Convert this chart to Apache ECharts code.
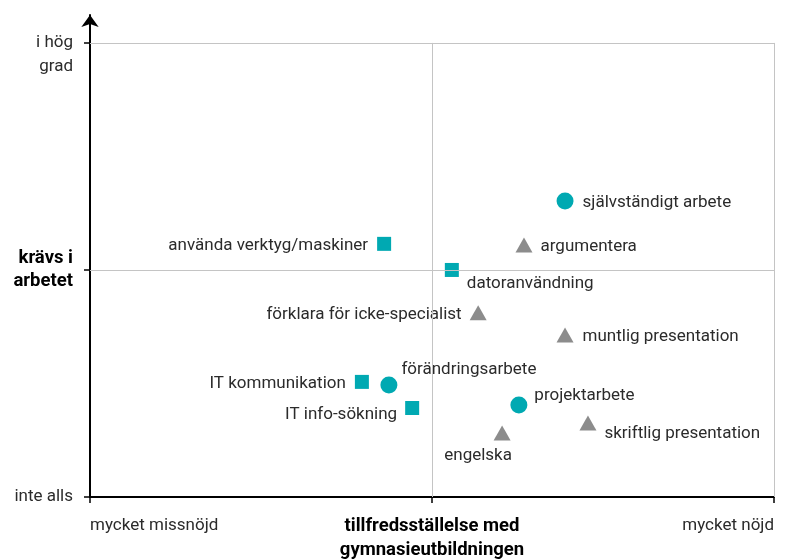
<!DOCTYPE html>
<html>
<head>
<meta charset="utf-8">
<script src="https://cdn.jsdelivr.net/npm/echarts@6/dist/echarts.min.js"></script>
<style>html,body{margin:0;padding:0;background:#fff}#c{width:791px;height:560px}</style>
</head>
<body>
<div id="c"></div>
<script>
// ---- data (x: satisfaction -1..1, y: required at work -1..1) ----
var circleNames = ['självständigt arbete', 'förändringsarbete', 'projektarbete'];
var circleX = [0.389, -0.126, 0.254];
var circleY = [0.304, -0.507, -0.595];

var squareNames = ['använda verktyg/maskiner', 'datoranvändning', 'IT kommunikation', 'IT info-sökning'];
var squareX = [-0.140, 0.058, -0.205, -0.058];
var squareY = [0.115, 0.000, -0.493, -0.608];

var triangleNames = ['argumentera', 'förklara för icke-specialist', 'muntlig presentation', 'skriftlig presentation', 'engelska'];
var triangleX = [0.269, 0.135, 0.389, 0.456, 0.205];
var triangleY = [0.110, -0.189, -0.286, -0.674, -0.718];

var xTickValues = [-1, 0, 1];
var xTickLabels = ['mycket missnöjd', 'tillfredsställelse med\ngymnasieutbildningen', 'mycket nöjd'];
var yTickValues = [-1, 0, 1];
var yTickLabels = ['inte alls', 'krävs i\narbetet', 'i hög\ngrad'];

// label placement per point (style only)
var labelPos = {
  'självständigt arbete': {position: 'right', distance: 9, offset: [0, 1.5]},
  'förändringsarbete': {position: 'right', distance: 4, offset: [0, -15]},
  'projektarbete': {position: 'right', distance: 7, offset: [0, -9]},
  'använda verktyg/maskiner': {position: 'left', distance: 9, offset: [0, 1.5]},
  'datoranvändning': {position: 'right', distance: 8, offset: [0, 14]},
  'IT kommunikation': {position: 'left', distance: 9, offset: [0, 1.5]},
  'IT info-sökning': {position: 'left', distance: 8, offset: [0, 7]},
  'argumentera': {position: 'right', distance: 8, offset: [0, 1.5]},
  'förklara för icke-specialist': {position: 'left', distance: 8, offset: [0, 1.5]},
  'muntlig presentation': {position: 'right', distance: 9, offset: [0, 1.5]},
  'skriftlig presentation': {position: 'right', distance: 8, offset: [0, 11]},
  'engelska': {position: 'bottom', distance: 6, offset: [-24, 1]}
};

function build(names, xs, ys) {
  return names.map(function (n, i) {
    var p = labelPos[n] || {position: 'right'};
    return {
      name: n,
      value: [xs[i], ys[i]],
      label: {show: true, formatter: n, position: p.position, distance: p.distance || 8, offset: p.offset || [0, 0]}
    };
  });
}

var TEAL = '#00A9B2';
var GRAY = '#8C8C8C';
var FONT = 'Roboto';
var FS = 17;
var FSB = 18.5;
var labelStyle = {color: '#2b2b2b', fontSize: FS, fontFamily: FONT};

var gridLineData = [
  [{coord: [-1, 1]}, {coord: [1, 1]}],
  [{coord: [-1, 0]}, {coord: [1, 0]}],
  [{coord: [0, -1]}, {coord: [0, 1]}],
  [{coord: [1, -1]}, {coord: [1, 1]}]
];

var chart = echarts.init(document.getElementById('c'), null, {renderer: 'canvas'});
chart.setOption({
  animation: false,
  backgroundColor: '#fff',
  grid: {left: 90, right: 17, top: 15, bottom: 63},
  xAxis: {
    type: 'value', min: -1, max: 1, interval: 1,
    axisLine: {show: true, onZero: false, lineStyle: {color: '#000', width: 2}},
    axisTick: {show: true, length: 6, lineStyle: {color: '#000', width: 1.5}, customValues: xTickValues},
    splitLine: {show: false},
    axisLabel: {
      show: true, margin: 17, customValues: xTickValues,
      alignMinLabel: 'left', alignMaxLabel: 'right',
      formatter: function (v) {
        var i = xTickValues.indexOf(v);
        if (i < 0) return '';
        return i === 1 ? '{b|' + xTickLabels[i].split('\n').join('}\n{b|') + '}' : '{n|' + xTickLabels[i] + '}';
      },
      rich: {
        n: {color: '#2b2b2b', fontSize: FS, fontFamily: FONT, lineHeight: 24},
        b: {color: '#000', fontSize: FSB, fontFamily: FONT, fontWeight: 'bold', lineHeight: 24}
      }
    }
  },
  yAxis: {
    type: 'value', min: -1, max: 1.123, interval: 1,
    axisLine: {show: true, onZero: false, lineStyle: {color: '#000', width: 2}, symbol: ['none', 'arrow'], symbolSize: [13, 12]},
    axisTick: {show: true, length: 6, lineStyle: {color: '#000', width: 1.5}, customValues: yTickValues},
    splitLine: {show: false},
    axisLabel: {
      show: true, margin: 17, customValues: yTickValues,
      formatter: function (v) {
        var i = yTickValues.indexOf(v);
        if (i < 0) return '';
        if (i === 1) return '{b|' + yTickLabels[i].split('\n').join('}\n{b|') + '}';
        if (i === 2) return '{n| }\n{n|' + yTickLabels[i].split('\n').join('}\n{n|') + '}';
        return '{n|' + yTickLabels[i] + '}';
      },
      rich: {
        n: {color: '#2b2b2b', fontSize: FS, fontFamily: FONT, lineHeight: 24, align: 'right'},
        b: {color: '#000', fontSize: FSB, fontFamily: FONT, fontWeight: 'bold', lineHeight: 23, align: 'right'}
      }
    }
  },
  series: [
    {
      type: 'scatter', data: [], silent: true,
      markLine: {
        silent: true, symbol: ['none', 'none'], label: {show: false},
        lineStyle: {color: '#C4C4C4', type: 'solid', width: 1},
        emphasis: {disabled: true},
        data: gridLineData
      }
    },
    {
      type: 'scatter', symbol: 'circle', symbolSize: 17,
      itemStyle: {color: TEAL, opacity: 1}, label: labelStyle,
      data: build(circleNames, circleX, circleY)
    },
    {
      type: 'scatter', symbol: 'rect', symbolSize: 14,
      itemStyle: {color: TEAL, opacity: 1}, label: labelStyle,
      data: build(squareNames, squareX, squareY)
    },
    {
      type: 'scatter', symbol: 'triangle', symbolSize: [17, 15],
      itemStyle: {color: GRAY, opacity: 1}, label: labelStyle,
      data: build(triangleNames, triangleX, triangleY)
    }
  ]
});
</script>
</body>
</html>
